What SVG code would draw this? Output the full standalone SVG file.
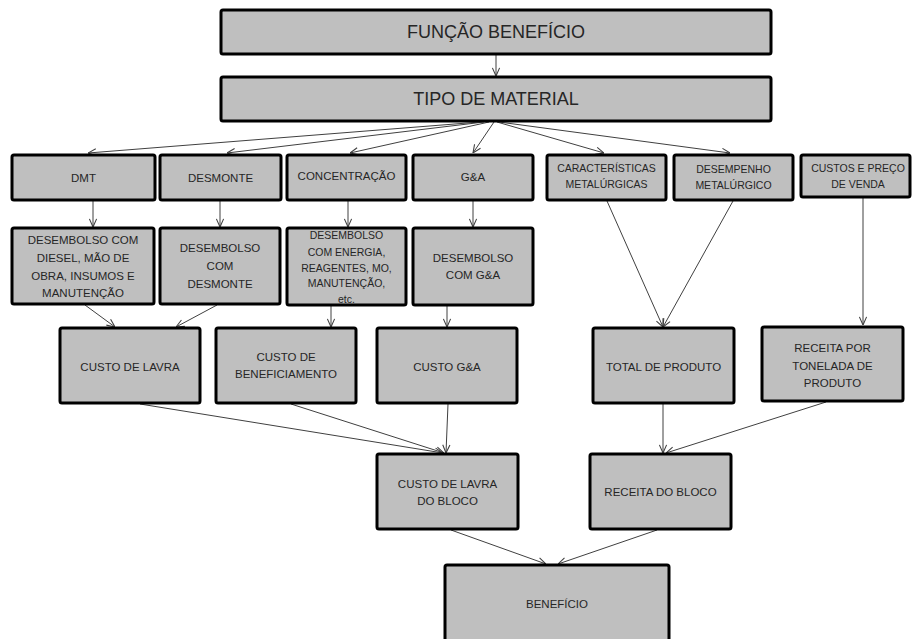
<svg xmlns="http://www.w3.org/2000/svg" width="912" height="639" viewBox="0 0 912 639">
  <style>
    .box { fill: #bfbfbf; stroke: #000; stroke-width: 3; }
    .lbl { font-family: "Liberation Sans", Arial, sans-serif; fill: #262626; text-anchor: middle; dominant-baseline: central; }
    .big { font-size: 18px; }
    .md { font-size: 11.5px; }
    .sm { font-size: 10.5px; }
    .link { fill: none; stroke: #404040; stroke-width: 1; marker-end: url(#arrow); }
  </style>
  <defs>
    <marker id="arrow" viewBox="0 0 10 10" refX="10" refY="5" markerWidth="9" markerHeight="9" markerUnits="userSpaceOnUse" orient="auto">
      <path d="M1,1 L10,5 L1,9" fill="none" stroke="#404040" stroke-width="1.2"/>
    </marker>
  </defs>
  <rect width="912" height="639" fill="#fff"/>

  <g id="connectors">
    <line class="link" x1="496" y1="54" x2="496" y2="76"/>
    <line class="link" x1="480" y1="122" x2="88" y2="153"/>
    <line class="link" x1="484" y1="122" x2="227" y2="153"/>
    <line class="link" x1="489" y1="122" x2="350" y2="153"/>
    <line class="link" x1="494" y1="122" x2="473" y2="153"/>
    <line class="link" x1="497" y1="122" x2="604" y2="153"/>
    <line class="link" x1="499" y1="122" x2="730" y2="153"/>
    <line class="link" x1="93" y1="201" x2="93" y2="227"/>
    <line class="link" x1="220" y1="201" x2="220" y2="227"/>
    <line class="link" x1="348" y1="201" x2="348" y2="227"/>
    <line class="link" x1="473" y1="201" x2="473" y2="227"/>
    <line class="link" x1="607" y1="201" x2="663" y2="327"/>
    <line class="link" x1="733" y1="201" x2="663" y2="327"/>
    <line class="link" x1="863" y1="198" x2="863" y2="325"/>
    <line class="link" x1="85" y1="305" x2="115" y2="327"/>
    <line class="link" x1="217" y1="305" x2="176" y2="327"/>
    <line class="link" x1="331" y1="306" x2="331" y2="327"/>
    <line class="link" x1="447" y1="306" x2="447" y2="327"/>
    <line class="link" x1="140" y1="404" x2="443" y2="453"/>
    <line class="link" x1="291" y1="404" x2="444" y2="453"/>
    <line class="link" x1="448" y1="404" x2="446" y2="453"/>
    <line class="link" x1="663" y1="404" x2="663" y2="453"/>
    <line class="link" x1="826" y1="402" x2="666" y2="453"/>
    <line class="link" x1="451" y1="530" x2="546" y2="564"/>
    <line class="link" x1="657" y1="530" x2="558" y2="564"/>
  </g>

  <g id="funcao-beneficio">
    <rect class="box" x="221" y="10" width="550" height="44" rx="2"/>
    <text class="lbl big" x="496" y="32">FUNÇÃO BENEFÍCIO</text>
  </g>
  <g id="tipo-material">
    <rect class="box" x="221" y="77" width="550" height="44" rx="2"/>
    <text class="lbl big" x="496" y="99">TIPO DE MATERIAL</text>
  </g>

  <g id="dmt">
    <rect class="box" x="12" y="155" width="143" height="45" rx="2"/>
    <text class="lbl md" x="83.5" y="178">DMT</text>
  </g>
  <g id="desmonte">
    <rect class="box" x="160" y="155" width="121" height="45" rx="2"/>
    <text class="lbl md" x="220.5" y="178">DESMONTE</text>
  </g>
  <g id="concentracao">
    <rect class="box" x="287" y="155" width="119" height="45" rx="2"/>
    <text class="lbl md" x="346.5" y="176">CONCENTRAÇÃO</text>
  </g>
  <g id="ga">
    <rect class="box" x="413" y="155" width="120" height="45" rx="2"/>
    <text class="lbl md" x="473" y="177">G&amp;A</text>
  </g>
  <g id="caracteristicas">
    <rect class="box" x="547" y="155" width="119" height="45" rx="2"/>
    <text class="lbl sm" x="606.5" y="168">CARACTERÍSTICAS</text>
    <text class="lbl sm" x="606.5" y="184">METALÚRGICAS</text>
  </g>
  <g id="desempenho">
    <rect class="box" x="674" y="155" width="119" height="45" rx="2"/>
    <text class="lbl sm" x="733.5" y="169">DESEMPENHO</text>
    <text class="lbl sm" x="733.5" y="185">METALÚRGICO</text>
  </g>
  <g id="custos-preco">
    <rect class="box" x="801" y="155" width="109" height="42" rx="2"/>
    <text class="lbl sm" x="858" y="168">CUSTOS E PREÇO</text>
    <text class="lbl sm" x="858" y="184">DE VENDA</text>
  </g>

  <g id="desembolso-lavra">
    <rect class="box" x="12" y="228" width="142" height="76" rx="2"/>
    <text class="lbl md" x="83" y="240">DESEMBOLSO COM</text>
    <text class="lbl md" x="83" y="258">DIESEL, MÃO DE</text>
    <text class="lbl md" x="83" y="276">OBRA, INSUMOS E</text>
    <text class="lbl md" x="83" y="293">MANUTENÇÃO</text>
  </g>
  <g id="desembolso-desmonte">
    <rect class="box" x="160" y="228" width="120" height="76" rx="2"/>
    <text class="lbl md" x="220" y="248">DESEMBOLSO</text>
    <text class="lbl md" x="220" y="266">COM</text>
    <text class="lbl md" x="220" y="284">DESMONTE</text>
  </g>
  <g id="desembolso-concentracao">
    <rect class="box" x="287" y="228" width="119" height="77" rx="2"/>
    <text class="lbl sm" x="346.5" y="235">DESEMBOLSO</text>
    <text class="lbl sm" x="346.5" y="252">COM ENERGIA,</text>
    <text class="lbl sm" x="346.5" y="268">REAGENTES, MO,</text>
    <text class="lbl sm" x="346.5" y="283">MANUTENÇÃO,</text>
    <text class="lbl sm" x="346.5" y="299">etc.</text>
  </g>
  <g id="desembolso-ga">
    <rect class="box" x="413" y="228" width="120" height="77" rx="2"/>
    <text class="lbl md" x="473" y="258">DESEMBOLSO</text>
    <text class="lbl md" x="473" y="275">COM G&amp;A</text>
  </g>

  <g id="custo-lavra">
    <rect class="box" x="60" y="328" width="140" height="75" rx="2"/>
    <text class="lbl md" x="130" y="367">CUSTO DE LAVRA</text>
  </g>
  <g id="custo-beneficiamento">
    <rect class="box" x="216" y="328" width="140" height="75" rx="2"/>
    <text class="lbl md" x="286" y="357">CUSTO DE</text>
    <text class="lbl md" x="286" y="374">BENEFICIAMENTO</text>
  </g>
  <g id="custo-ga">
    <rect class="box" x="377" y="328" width="140" height="75" rx="2"/>
    <text class="lbl md" x="447" y="367">CUSTO G&amp;A</text>
  </g>
  <g id="total-produto">
    <rect class="box" x="593" y="328" width="141" height="75" rx="2"/>
    <text class="lbl md" x="663.5" y="367">TOTAL DE PRODUTO</text>
  </g>
  <g id="receita-tonelada">
    <rect class="box" x="762" y="327" width="141" height="74" rx="2"/>
    <text class="lbl md" x="832.5" y="348">RECEITA POR</text>
    <text class="lbl md" x="832.5" y="366">TONELADA DE</text>
    <text class="lbl md" x="832.5" y="383">PRODUTO</text>
  </g>

  <g id="custo-lavra-bloco">
    <rect class="box" x="377" y="454" width="141" height="75" rx="2"/>
    <text class="lbl md" x="447.5" y="484">CUSTO DE LAVRA</text>
    <text class="lbl md" x="447.5" y="501">DO BLOCO</text>
  </g>
  <g id="receita-bloco">
    <rect class="box" x="590" y="454" width="141" height="75" rx="2"/>
    <text class="lbl md" x="660.5" y="492">RECEITA DO BLOCO</text>
  </g>

  <g id="beneficio">
    <rect class="box" x="445" y="565" width="224" height="84" rx="2"/>
    <text class="lbl md" x="557" y="604">BENEFÍCIO</text>
  </g>
</svg>
